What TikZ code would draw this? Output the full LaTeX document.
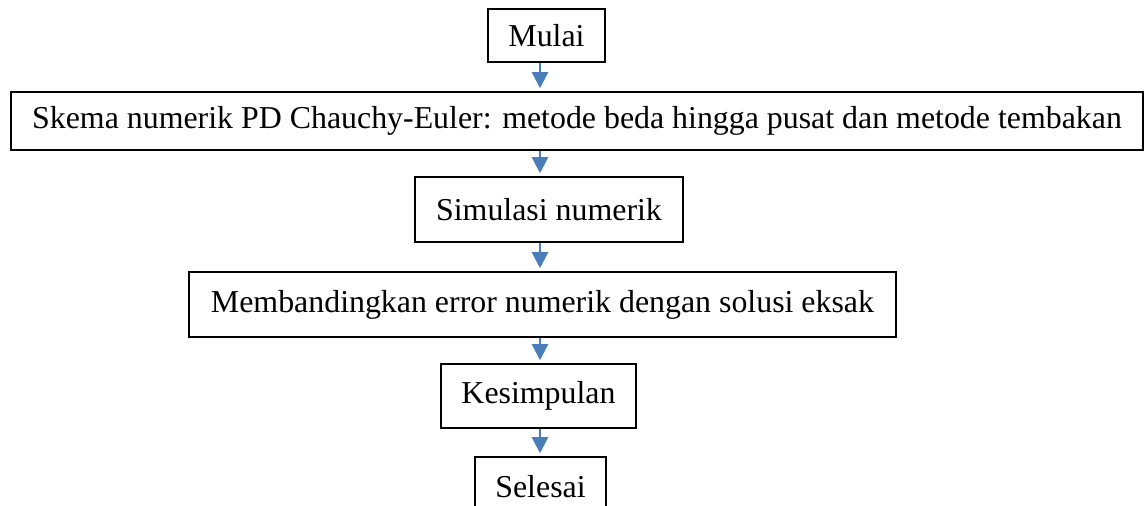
\documentclass[tikz,border=0pt]{standalone}
\usepackage{fontspec}
\setmainfont{Liberation Serif}
\usetikzlibrary{arrows.meta}

\definecolor{flowblue}{RGB}{74,126,187}

\begin{document}
\begin{tikzpicture}[%
	every node/.style={font=\fontsize{12.75}{15}\selectfont},
	>={Triangle[width=6.4pt,length=6.4pt]}, % Filled blue heads
	x=1pt, y=1pt,
	]
	% -------------------------------------------------
	% Box and connector styles
	\tikzset{
		proc/.style={draw, rectangle, align=center, line width=0.6pt, inner sep=0pt},
		flow/.style={->, draw=flowblue, line width=0.9pt, shorten >=1.2pt},
	}
	\useasboundingbox (0,0) rectangle (457.6,-202.4);

	\node[proc, minimum width=46.8pt,  minimum height=21.2pt] (mulai)   at (218.6,-14.2)  {Mulai};
	\node[proc, minimum width=452.8pt, minimum height=23.2pt] (skema)   at (230.8,-48.4)  {Skema numerik PD Chauchy-Euler: metode beda hingga pusat dan metode tembakan};
	\node[proc, minimum width=107.2pt, minimum height=26pt]   (simul)   at (219.6,-83.8)  {Simulasi numerik};
	\node[proc, minimum width=282.8pt, minimum height=26pt]   (banding) at (217,-121.8)   {Membandingkan error numerik dengan solusi eksak};
	\node[proc, minimum width=78pt,    minimum height=25.6pt] (simpul)  at (215.4,-158.4) {Kesimpulan};
	\node[proc, minimum width=52.4pt,  minimum height=24pt]   (selesai) at (216.2,-194.8) {Selesai};

	% all arrows run down one common vertical line
	\coordinate (axis) at (216,0);
	\draw[flow] (mulai.south -| axis)  -- (skema.north -| axis);
	\draw[flow] (skema.south -| axis)  -- (simul.north -| axis);
	\draw[flow] (simul.south -| axis)  -- (banding.north -| axis);
	\draw[flow] (banding.south -| axis) -- (simpul.north -| axis);
	\draw[flow] (simpul.south -| axis) -- (selesai.north -| axis);

\end{tikzpicture}
\end{document}
